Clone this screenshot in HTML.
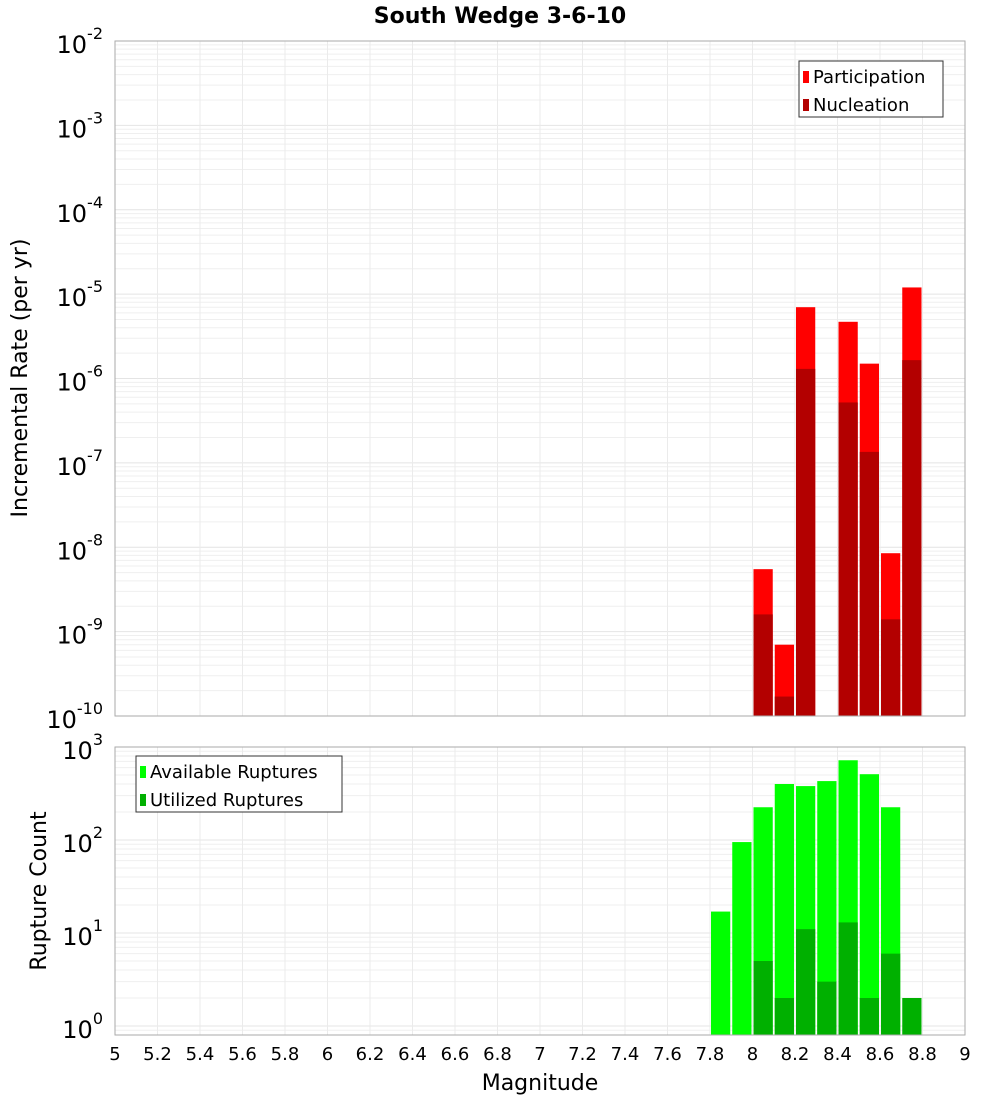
<!DOCTYPE html>
<html><head><meta charset="utf-8"><style>
body{margin:0;background:#fff;font-family:"DejaVu Sans","Liberation Sans",sans-serif}
svg text{font-family:"DejaVu Sans","Liberation Sans",sans-serif}
</style></head><body>
<svg id="c" width="1000" height="1100" xmlns="http://www.w3.org/2000/svg">
<text x="500" y="23" text-anchor="middle" font-size="22" font-weight="bold">South Wedge 3-6-10</text>
<text transform="translate(27,378) rotate(-90)" text-anchor="middle" font-size="22">Incremental Rate (per yr)</text>
<text transform="translate(46,891) rotate(-90)" text-anchor="middle" font-size="22">Rupture Count</text>
<text x="540" y="1090" text-anchor="middle" font-size="22">Magnitude</text>
<g id="top"></g><g id="bot"></g>
</svg>
<script>
const mags=[7.85,7.95,8.05,8.15,8.25,8.35,8.45,8.55,8.65,8.75];
const participation=[0,0,5.5e-9,7e-10,7e-6,0,4.7e-6,1.5e-6,8.5e-9,1.2e-5];
const nucleation=[0,0,1.6e-9,1.7e-10,1.3e-6,0,5.2e-7,1.35e-7,1.4e-9,1.65e-6];
const available=[17,95,225,400,380,430,720,510,225,0];
const utilized=[0,0,5,2,11,3,13,2,6,2];
const xTicks=[5,5.2,5.4,5.6,5.8,6,6.2,6.4,6.6,6.8,7,7.2,7.4,7.6,7.8,8,8.2,8.4,8.6,8.8,9];
const topExps=[-2,-3,-4,-5,-6,-7,-8,-9,-10];
const botExps=[3,2,1,0];
const NS='http://www.w3.org/2000/svg';
const X0=115,X1=965;
function xs(m){return X0+(m-5)/4*(X1-X0);}
function mk(p,t,a){const e=document.createElementNS(NS,t);for(const k in a)e.setAttribute(k,a[k]);p.appendChild(e);return e;}
function panel(g,top,bot,lmax,lmin,name){
 const ys=v=>top+(lmax-Math.log10(v))/(lmax-lmin)*(bot-top);
 for(let d=Math.floor(lmin);d<lmax;d++)for(let k=1;k<10;k++){const v=k*Math.pow(10,d);const y=ys(v);if(y<top||y>bot)continue;
  const l=mk(g,'line',{x1:X0,x2:X1,y1:y,y2:y,stroke:k==1?'#e4e4e4':'#efefef','stroke-width':1});
  
  }
 xTicks.forEach(t=>{const l=mk(g,'line',{x1:xs(t),x2:xs(t),y1:top,y2:bot,stroke:'#ebebeb'});
  
  });
 return ys;
}
function bars(g,ys,vals,col,name,bot){
 vals.forEach((v,i)=>{if(!v)return;const x=xs(mags[i]-0.05)+1,w=xs(mags[i]+0.05)-xs(mags[i]-0.05)-2;const y=ys(v);
  const r=mk(g,'rect',{x:x,y:y,width:w,height:bot-y,fill:col});
  
  });
}
function ylab(g,y,e,name){const t=mk(g,'text',{x:103,y:y+12,'text-anchor':'end','font-size':24});
 
 
 t.textContent='10';const s=mk(t,'tspan',{dy:-14,'font-size':16});s.textContent=String(e);
 
 }
const gt=document.getElementById('top'),gb=document.getElementById('bot');
const T0=41,T1=716;
const yt=panel(gt,T0,T1,-2,-10,'top');
bars(gt,yt,participation,'#ff0000','participation',T1);
bars(gt,yt,nucleation,'#b30000','nucleation',T1);
mk(gt,'rect',{x:X0,y:T0,width:X1-X0,height:T1-T0,fill:'none',stroke:'#aaa'});
topExps.forEach(e=>ylab(gt,yt(Math.pow(10,e)),e,'top'));
const B0=747,B1=1035;
const yb=panel(gb,B0,B1,3,3-(B1-B0)/93,'bottom');
bars(gb,yb,available,'#00ff00','available',B1);
bars(gb,yb,utilized,'#00b000','utilized',B1);
mk(gb,'rect',{x:X0,y:B0,width:X1-X0,height:B1-B0,fill:'none',stroke:'#aaa'});
botExps.forEach(e=>ylab(gb,yb(Math.pow(10,e)),e,'bottom'));
xTicks.forEach(t=>{const e=mk(gb,'text',{x:xs(t),y:1060,'text-anchor':'middle','font-size':18});e.textContent=String(t);
 
 });
function legend(g,x,y,w,items,name){const b=mk(g,'rect',{x:x,y:y,width:w,height:56,fill:'#fff',stroke:'#333'});
 
 
 items.forEach((it,i)=>{const r=mk(g,'rect',{x:x+4,y:y+10+i*28,width:6,height:12,fill:it[1]});
  
  
  const t=mk(g,'text',{x:x+14,y:y+22+i*28,'font-size':18});t.textContent=it[0];
  
  });}
legend(gt,799,61,144,[['Participation','#ff0000'],['Nucleation','#b30000']],'top-legend');
legend(gb,136,756,206,[['Available Ruptures','#00ff00'],['Utilized Ruptures','#00b000']],'bottom-legend');
</script>
</body></html>
